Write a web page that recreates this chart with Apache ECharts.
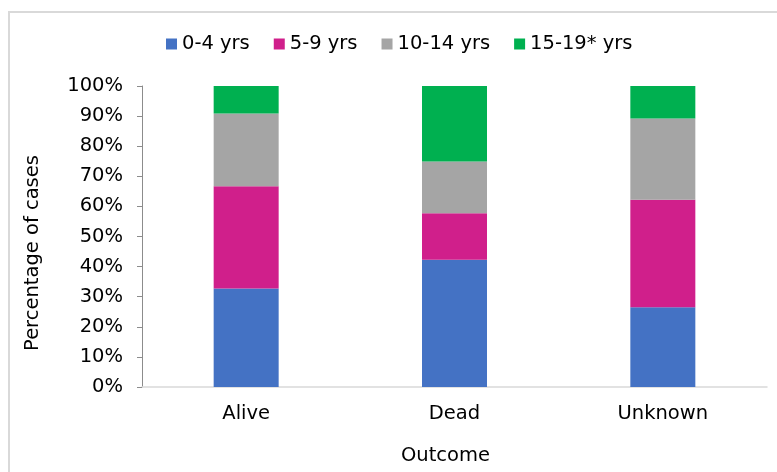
<!DOCTYPE html>
<html>
<head>
<meta charset="utf-8">
<script src="https://cdn.jsdelivr.net/npm/echarts@6/dist/echarts.min.js"></script>
<style>
  html, body { margin: 0; padding: 0; background: #fff; }
  #chart { width: 777px; height: 472px; }
</style>
</head>
<body>
<div id="chart"></div>
<script>
// outcome categories and share (%) of each age group
const outcomes = ["Alive", "Dead", "Unknown"];
const ageGroups = ["0-4 yrs", "5-9 yrs", "10-14 yrs", "15-19* yrs"];
const age0to4 = [32.7, 42.3, 26.5];
const age5to9 = [34.0, 15.4, 35.7];
const age10to14 = [24.2, 17.2, 27.0];
const age15to19 = [9.1, 25.1, 10.8];
const colors = ["#4472C4", "#D01F8B", "#A5A5A5", "#00B050"];

const font = "DejaVu Sans";
const fs = 19.5;
const chart = echarts.init(document.getElementById("chart"));

const seriesData = [age0to4, age5to9, age10to14, age15to19];

const option = {
  animation: false,
  color: colors,
  textStyle: { fontFamily: font },
  legend: {
    data: ageGroups,
    left: 161,
    top: 29,
    itemWidth: 11,
    itemHeight: 11,
    itemGap: 24,
    icon: "rect",
    textStyle: { fontFamily: font, fontSize: fs, color: "#000" }
  },
  title: {
    text: "Outcome",
    left: 401,
    top: 446,
    padding: 0,
    textStyle: { fontFamily: font, fontSize: fs, fontWeight: "normal", color: "#000" }
  },
  grid: { left: 142, right: 10, top: 86, bottom: 85 },
  xAxis: {
    type: "category",
    data: outcomes,
    axisTick: { show: false },
    axisLine: { lineStyle: { color: "#d9d9d9", width: 1.5 } },
    axisLabel: { margin: 17, fontFamily: font, fontSize: fs, color: "#000" }
  },
  yAxis: {
    type: "value",
    min: 0,
    max: 100,
    interval: 10,
    splitLine: { show: false },
    axisLine: { show: true, lineStyle: { color: "#8c8c8c", width: 1 } },
    axisTick: { show: true, length: 5, lineStyle: { color: "#8c8c8c" } },
    axisLabel: { margin: 19, formatter: "{value}%", fontFamily: font, fontSize: fs, color: "#000" }
  },
  series: ageGroups.map((name, i) => ({
    name: name,
    type: "bar",
    stack: "total",
    barWidth: 65,
    data: seriesData[i]
  })),
  graphic: [
    {
      type: "rect",
      shape: { x: 9, y: 12, width: 900, height: 600 },
      style: { fill: "none", stroke: "#d9d9d9", lineWidth: 2 },
      silent: true
    },
    {
      type: "text",
      x: 33,
      y: 253,
      rotation: Math.PI / 2,
      style: {
        text: "Percentage of cases",
        fontFamily: font,
        fontSize: fs,
        fill: "#000",
        align: "center",
        verticalAlign: "middle"
      }
    }
  ]
};

chart.setOption(option);
</script>
</body>
</html>
